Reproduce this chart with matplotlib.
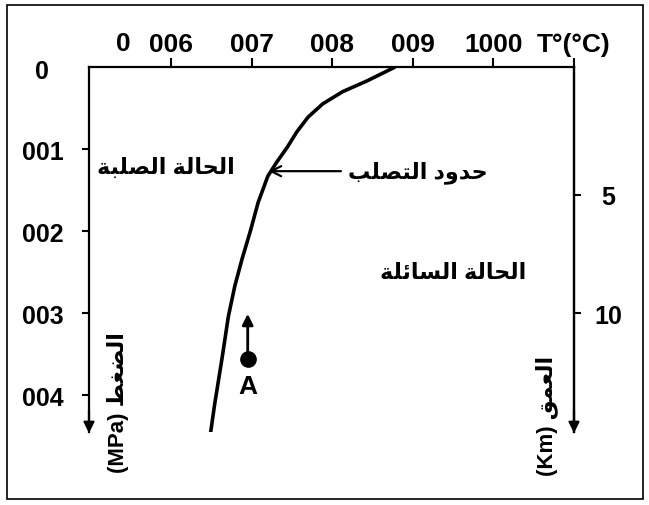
import matplotlib
matplotlib.use("Agg")
import matplotlib.pyplot as plt
from matplotlib.patches import Rectangle

# solidus curve
pressure = [0, 17, 30, 45, 61, 79, 98, 116, 133, 165, 201, 234, 267, 304, 356, 411, 466]
temperature = [878, 843, 813, 788, 770, 756, 744, 731, 720, 708, 698, 688, 679, 671, 663, 654, 646]

temp_ticks = [600, 700, 800, 900, 1000, 1100]
temp_labels = ['006', '007', '008', '009', '1000', 'T°(°C)']
press_ticks = [100, 200, 300, 400]
press_labels = ['001', '002', '003', '004']
depth_ticks = [5, 10]
depth_labels = ['5', '10']

point_a = (695, 356)

# arabic presentation forms: isolated, final, initial, medial
FORMS = {
    'ا': (0xFE8D, 0xFE8E, None, None),
    'ب': (0xFE8F, 0xFE90, 0xFE91, 0xFE92),
    'ة': (0xFE93, 0xFE94, None, None),
    'ت': (0xFE95, 0xFE96, 0xFE97, 0xFE98),
    'ح': (0xFEA1, 0xFEA2, 0xFEA3, 0xFEA4),
    'د': (0xFEA9, 0xFEAA, None, None),
    'س': (0xFEB1, 0xFEB2, 0xFEB3, 0xFEB4),
    'ص': (0xFEB9, 0xFEBA, 0xFEBB, 0xFEBC),
    'ض': (0xFEBD, 0xFEBE, 0xFEBF, 0xFEC0),
    'ط': (0xFEC1, 0xFEC2, 0xFEC3, 0xFEC4),
    'ع': (0xFEC9, 0xFECA, 0xFECB, 0xFECC),
    'غ': (0xFECD, 0xFECE, 0xFECF, 0xFED0),
    'ق': (0xFED5, 0xFED6, 0xFED7, 0xFED8),
    'ل': (0xFEDD, 0xFEDE, 0xFEDF, 0xFEE0),
    'م': (0xFEE1, 0xFEE2, 0xFEE3, 0xFEE4),
    'و': (0xFEED, 0xFEEE, None, None),
    'ئ': (0xFE89, 0xFE8A, 0xFE8B, 0xFE8C),
}


def shape(text):
    # join letters and flip to visual order, matplotlib has no bidi
    out = []
    for i, c in enumerate(text):
        if c not in FORMS:
            out.append(c)
            continue
        prev = text[i - 1] if i > 0 else None
        nxt = text[i + 1] if i + 1 < len(text) else None
        jp = prev in FORMS and FORMS[prev][2] is not None
        jn = FORMS[c][2] is not None and nxt in FORMS
        iso, fin, ini, med = FORMS[c]
        if jp and jn:
            g = med
        elif jp:
            g = fin
        elif jn:
            g = ini
        else:
            g = iso
        out.append(chr(g))
    return ''.join(reversed(out))


plt.rcParams['font.family'] = ['Liberation Sans', 'DejaVu Sans']
plt.rcParams['font.weight'] = 'bold'

W, H = 649, 506
fig = plt.figure(figsize=(W / 100, H / 100), dpi=100)
ax = fig.add_axes([89 / W, 1 - 433 / H, (574 - 89) / W, (433 - 68) / H])

ax.plot(temperature, pressure, color='black', lw=2.6,
        solid_capstyle='butt', solid_joinstyle='round')
ax.set_xlim(498, 1100)
ax.set_ylim(445, 0)

for s in ['left', 'right', 'top']:
    ax.spines[s].set_linewidth(1.6)
ax.spines['bottom'].set_visible(False)

ax.xaxis.tick_top()
ax.set_xticks(temp_ticks)
ax.set_xticklabels(temp_labels, fontsize=19)
ax.tick_params(axis='x', length=6.5, width=1.5, pad=1.5)

ax.set_yticks(press_ticks)
ax.set_yticklabels(press_labels, fontsize=18)
ax.tick_params(axis='y', length=5, width=1.5, pad=28)
for lab in ax.get_yticklabels():
    lab.set_ha('center')

ax2 = ax.twinx()
ax2.set_ylim(15.04, -0.42)
for s in ['left', 'top', 'bottom']:
    ax2.spines[s].set_visible(False)
ax2.spines['right'].set_linewidth(1.6)
ax2.set_yticks(depth_ticks)
ax2.set_yticklabels(depth_labels, fontsize=18)
ax2.tick_params(axis='y', length=5, width=1.5, pad=20)
for lab in ax2.get_yticklabels():
    lab.set_ha('center')

# extra zeros at the corner
ax.annotate('0', xy=(540, 1), xycoords=('data', 'axes fraction'),
            xytext=(0, 12), textcoords='offset pixels',
            ha='center', va='bottom', fontsize=19)
ax.annotate('0', xy=(0, 1), xycoords='axes fraction',
            xytext=(-47, -4), textcoords='offset pixels',
            ha='center', va='center', fontsize=18)

# arrow heads at bottom of vertical axes
for xf in [0, 1]:
    ax.annotate('', xy=(xf, -0.003), xycoords='axes fraction',
                xytext=(xf, 0.06), textcoords='axes fraction',
                arrowprops=dict(arrowstyle='-|>', color='black', lw=1.6,
                                mutation_scale=16, shrinkA=0, shrinkB=0))

# region labels
ax.text(594, 122, shape('الحالة الصلبة'), fontsize=16, ha='center', va='center')
ax.text(950, 251, shape('الحالة السائلة'), fontsize=16, ha='center', va='center')
ax.annotate(shape('حدود التصلب'), xy=(721, 127), xytext=(906, 127),
            fontsize=16, ha='center', va='center',
            arrowprops=dict(arrowstyle='->', color='black', lw=1.6,
                            mutation_scale=18, shrinkA=3, shrinkB=0))

# point A
ax.plot([point_a[0]], [point_a[1]], 'o', color='black', ms=11)
ax.annotate('', xy=(point_a[0], 301), xytext=point_a,
            arrowprops=dict(arrowstyle='-|>', color='black', lw=2,
                            mutation_scale=16, shrinkA=0, shrinkB=0))
ax.text(point_a[0], 389, 'A', fontsize=19, ha='center', va='center')

# axis titles
ax.text(0.06, 408, '(MPa) ' + shape('الضغط'), transform=ax.get_yaxis_transform(),
        rotation=90, fontsize=16, ha='center', va='center')
ax.text(0.944, 424, '(Km) ' + shape('العمق'), transform=ax.get_yaxis_transform(),
        rotation=90, fontsize=16, ha='center', va='center')

# outer frame
fig.patches.append(Rectangle((7 / W, 1 - 500 / H), (643 - 7) / W, (500 - 6) / H,
                             transform=fig.transFigure, fill=False,
                             edgecolor='black', lw=1.2))

fig.savefig('out.png', dpi=100)
